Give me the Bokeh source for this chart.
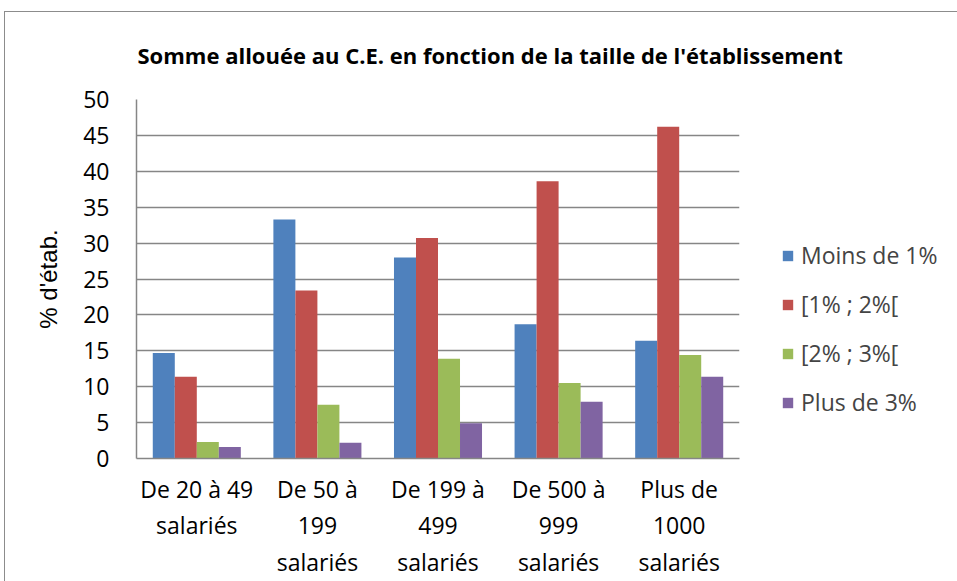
from bokeh.plotting import figure
from bokeh.models import ColumnDataSource, FactorRange, Legend, LegendItem, FixedTicker, Range1d
from bokeh.transform import dodge
from bokeh.embed import file_html
from bokeh.resources import INLINE

categories = ["De 20 à 49\nsalariés", "De 50 à\n199\nsalariés", "De 199 à\n499\nsalariés",
              "De 500 à\n999\nsalariés", "Plus de\n1000\nsalariés"]
series_names = ["Moins de 1%", "[1% ; 2%[", "[2% ; 3%[", "Plus de 3%"]
moins_1 = [14.7, 33.3, 28.0, 18.7, 16.4]
de_1_a_2 = [11.4, 23.4, 30.7, 38.6, 46.2]
de_2_a_3 = [2.3, 7.5, 13.9, 10.5, 14.4]
plus_3 = [1.6, 2.2, 4.9, 7.9, 11.4]
y_ticks = [0, 5, 10, 15, 20, 25, 30, 35, 40, 45, 50]
title_text = "Somme allouée au C.E. en fonction de la taille de l'établissement"
y_label = "% d'étab."

colors = ["#4F81BD", "#C0504D", "#9BBB59", "#8064A2"]
FONT = "Open Sans"

source = ColumnDataSource(dict(cat=categories, s0=moins_1, s1=de_1_a_2, s2=de_2_a_3, s3=plus_3))

p = figure(x_range=FactorRange(*categories), y_range=Range1d(0, 50),
           frame_width=603, frame_height=359,
           min_border_left=131, min_border_right=214, min_border_top=85, min_border_bottom=123,
           output_backend="svg", toolbar_location=None,
           styles={"border": "1px solid #8c8c8c", "margin-left": "4px", "margin-top": "11px"})

bw = 0.1825
offsets = [-1.5 * bw, -0.5 * bw, 0.5 * bw, 1.5 * bw]
renderers = []
for i, col in enumerate(["s0", "s1", "s2", "s3"]):
    r = p.vbar(x=dodge("cat", offsets[i], range=p.x_range), top=col, width=bw, source=source,
               fill_color=colors[i], line_color=None)
    renderers.append(r)

p.outline_line_color = None
p.xgrid.visible = False
p.ygrid.grid_line_color = "#868686"
p.ygrid.grid_line_width = 1.5
p.yaxis.ticker = FixedTicker(ticks=y_ticks)

for ax in (p.xaxis[0], p.yaxis[0]):
    ax.axis_line_color = "#868686"
    ax.axis_line_width = 1.5
    ax.major_tick_line_color = None
    ax.minor_tick_line_color = None
    ax.major_label_text_font = FONT
    ax.major_label_text_font_size = "23px"
    ax.major_label_text_color = "black"

p.yaxis.major_label_standoff = 21
p.xaxis.major_label_standoff = 8
p.xaxis.major_label_text_line_height = 1.15
p.yaxis.axis_label = y_label
p.yaxis.axis_label_text_font = "Liberation Sans"
p.yaxis.axis_label_text_font_size = "24px"
p.yaxis.axis_label_text_font_style = "normal"
p.yaxis.axis_label_text_color = "black"
p.yaxis.axis_label_standoff = 18

p.title.text = title_text
p.title.align = "left"
p.title.vertical_align = "top"
p.title.offset = 1
p.title.standoff = 55
p.title.text_font = FONT
p.title.text_font_style = "bold"
p.title.text_font_size = "22px"
p.title.text_color = "black"

legend = Legend(items=[LegendItem(label=series_names[i], renderers=[renderers[i]]) for i in range(4)],
                location=(42, 40), padding=0, margin=0, border_line_color=None,
                background_fill_alpha=0, glyph_width=13, glyph_height=13, label_height=20,
                spacing=17, label_standoff=7, label_text_font=FONT, label_text_font_size="23px")
p.add_layout(legend, "right")

open("out.html", "w").write(file_html(p, INLINE))
